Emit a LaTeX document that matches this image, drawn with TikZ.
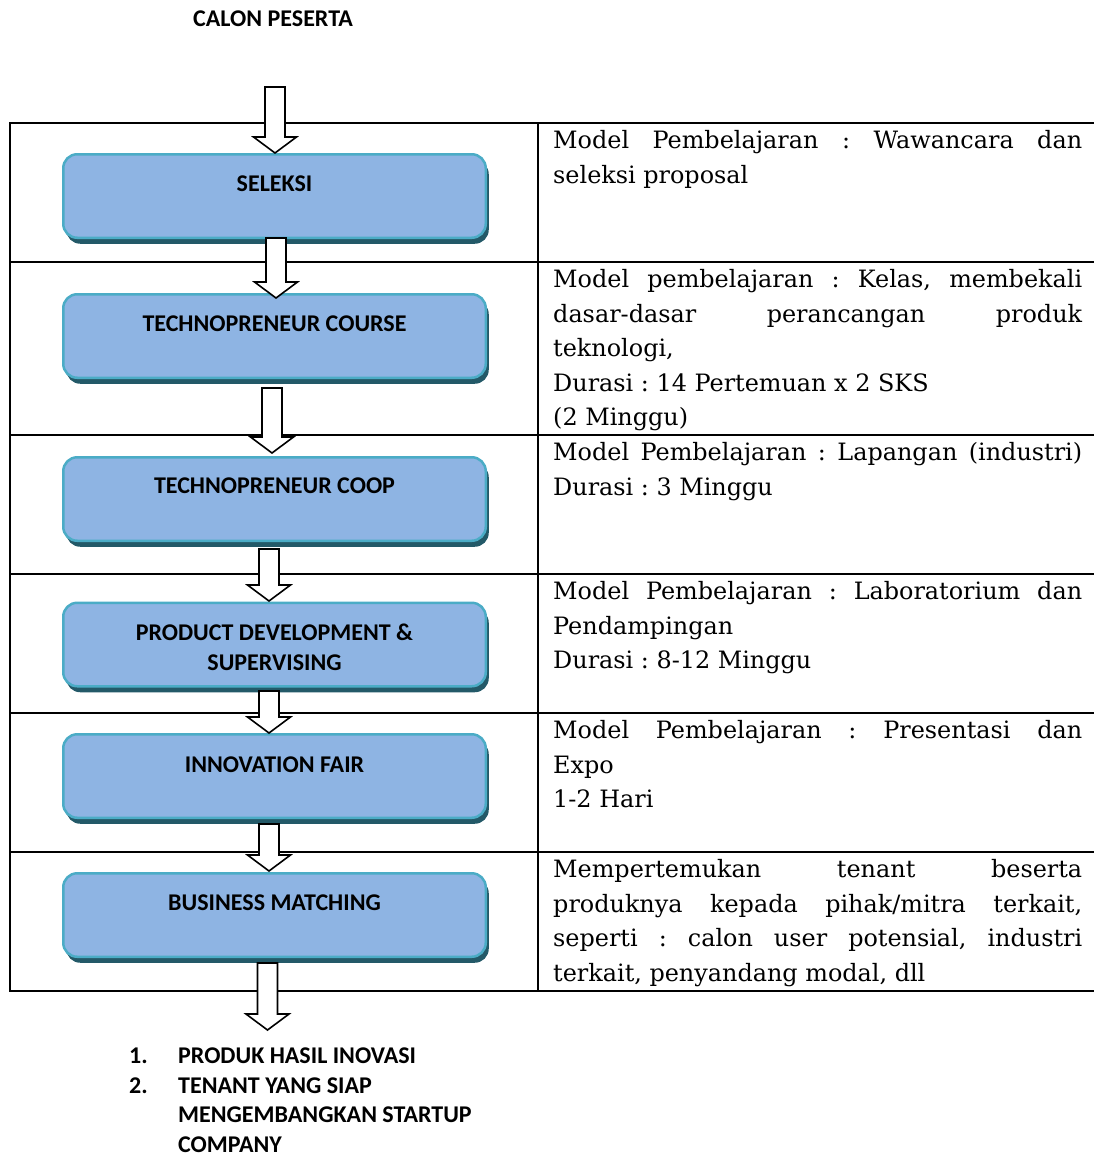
\documentclass[tikz,border=0pt]{standalone}
\usepackage{fontspec}
\setmainfont{DejaVu Serif}
\newfontfamily\carlito{Carlito}
\usetikzlibrary{calc,shadows}
\frenchspacing

\definecolor{boxfill}{RGB}{142,180,227}
\definecolor{boxedge}{RGB}{75,172,198}
\definecolor{boxshade}{RGB}{35,89,104}

% width of the description column, used for justified lines
\newlength\colw
\setlength\colw{529pt}
\newcommand\jl[1]{\makebox[\colw][s]{#1}}

% hollow block arrow: shaft top centre #1, tip #2
\newcommand\fatarrow[2]{%
  \draw[fat] let \p1=(#1), \p2=(#2) in
    (\x1-10pt,\y1) -- (\x1+10pt,\y1) -- (\x1+10pt,\y2+16pt)
    -- (\x1+21.5pt,\y2+16pt) -- (\x1,\y2) -- (\x1-21.5pt,\y2+16pt)
    -- (\x1-10pt,\y2+16pt) -- cycle;}

\tikzset{
  x=1pt, y=-1pt,
  grid/.style={line width=2pt, black},
  stage/.style={rounded corners=14pt, fill=boxfill, draw=boxedge,
    line width=2.5pt, minimum width=422.5pt, minimum height=83.5pt,
    inner sep=0pt,
    drop shadow={shadow xshift=3pt, shadow yshift=-6pt, fill=boxshade, opacity=1}},
  heading/.style={font=\carlito\bfseries\fontsize{24}{30}\selectfont,
    align=center, inner sep=0pt},
  listtext/.style={font=\carlito\bfseries\fontsize{24}{29.3}\selectfont,
    align=left, inner sep=0pt, anchor=west},
  note/.style={anchor=north west, inner sep=0pt, align=left,
    font=\fontsize{23.9}{34.6}\selectfont},
  fat/.style={draw=black, fill=white, line width=1.6pt, line join=miter},
}

\begin{document}
\begin{tikzpicture}
\useasboundingbox (0,0) rectangle (1094,1153);

% table grid
\foreach \yy in {123,262,435,574,713,852,991}
  \draw[grid] (9,\yy) -- (1096,\yy);
\draw[grid] (10,123) -- (10,991);
\draw[grid] (538,123) -- (538,991);

% title
\node[heading] (calon) at (273,19) {CALON PESERTA};

% stage boxes
\node[stage] (s1) at (274.5,196) {};
\node[stage] (s2) at (274.5,336) {};
\node[stage] (s3) at (274.5,499) {};
\node[stage] (s4) at (274.5,644.5) {};
\node[stage] (s5) at (274.5,776) {};
\node[stage] (s6) at (274.5,915) {};

\node[heading] (l1) at ($(s1.center)+(0,-12)$) {SELEKSI};
\node[heading] (l2) at ($(s2.center)+(0,-12)$) {TECHNOPRENEUR COURSE};
\node[heading] (l3) at ($(s3.center)+(0,-13)$) {TECHNOPRENEUR COOP};
\node[heading] (l4) at ($(s4.center)+(0,2.5)$) {PRODUCT DEVELOPMENT \&\\SUPERVISING};
\node[heading] (l5) at ($(s5.center)+(0,-11)$) {INNOVATION FAIR};
\node[heading] (l6) at ($(s6.center)+(0,-12)$) {BUSINESS MATCHING};

% descriptions
\node[note] (d1) at (553,124) {\jl{\strut Model Pembelajaran : Wawancara dan}\\
  seleksi proposal};
\node[note] (d2) at (553,263) {\jl{\strut Model pembelajaran : Kelas, membekali}\\
  \jl{dasar-dasar perancangan produk}\\
  teknologi,\\
  Durasi : 14 Pertemuan x 2 SKS\\
  (2 Minggu)};
\node[note] (d3) at (553,436) {\jl{\strut Model Pembelajaran : Lapangan (industri)}\\
  Durasi : 3 Minggu};
\node[note] (d4) at (553,575) {\jl{\strut Model Pembelajaran : Laboratorium dan}\\
  Pendampingan\\
  Durasi : 8-12 Minggu};
\node[note] (d5) at (553,714) {\jl{\strut Model Pembelajaran : Presentasi dan}\\
  Expo\\
  1-2 Hari};
\node[note] (d6) at (553,853) {\jl{\strut Mempertemukan tenant beserta}\\
  \jl{produknya kepada pihak/mitra terkait,}\\
  \jl{seperti : calon user potensial, industri}\\
  terkait, penyandang modal, dll};

% outcomes
\node[listtext] (n1) at (129,1056) {1.};
\node[listtext] (o1) at (178,1056) {PRODUK HASIL INOVASI};
\node[listtext] (n2) at (129,1086) {2.};
\node[listtext] (o2) at (178,1115) {TENANT YANG SIAP\\MENGEMBANGKAN STARTUP\\COMPANY};

% flow arrows
\coordinate (a0s) at (275,87);   \coordinate (a0e) at (275,153);
\coordinate (a1s) at (276,238);  \coordinate (a1e) at (276,298);
\coordinate (a2s) at (272,388);  \coordinate (a2e) at (272,453);
\coordinate (a3s) at (269,549);  \coordinate (a3e) at (269,601);
\coordinate (a4s) at (269,691);  \coordinate (a4e) at (269,733);
\coordinate (a5s) at (269,824);  \coordinate (a5e) at (269,871);
\coordinate (a6s) at (267.5,963); \coordinate (a6e) at (267.5,1030);
\fatarrow{a0s}{a0e}
\fatarrow{a1s}{a1e}
\fatarrow{a2s}{a2e}
\fatarrow{a3s}{a3e}
\fatarrow{a4s}{a4e}
\fatarrow{a5s}{a5e}
\fatarrow{a6s}{a6e}
\end{tikzpicture}
\end{document}
